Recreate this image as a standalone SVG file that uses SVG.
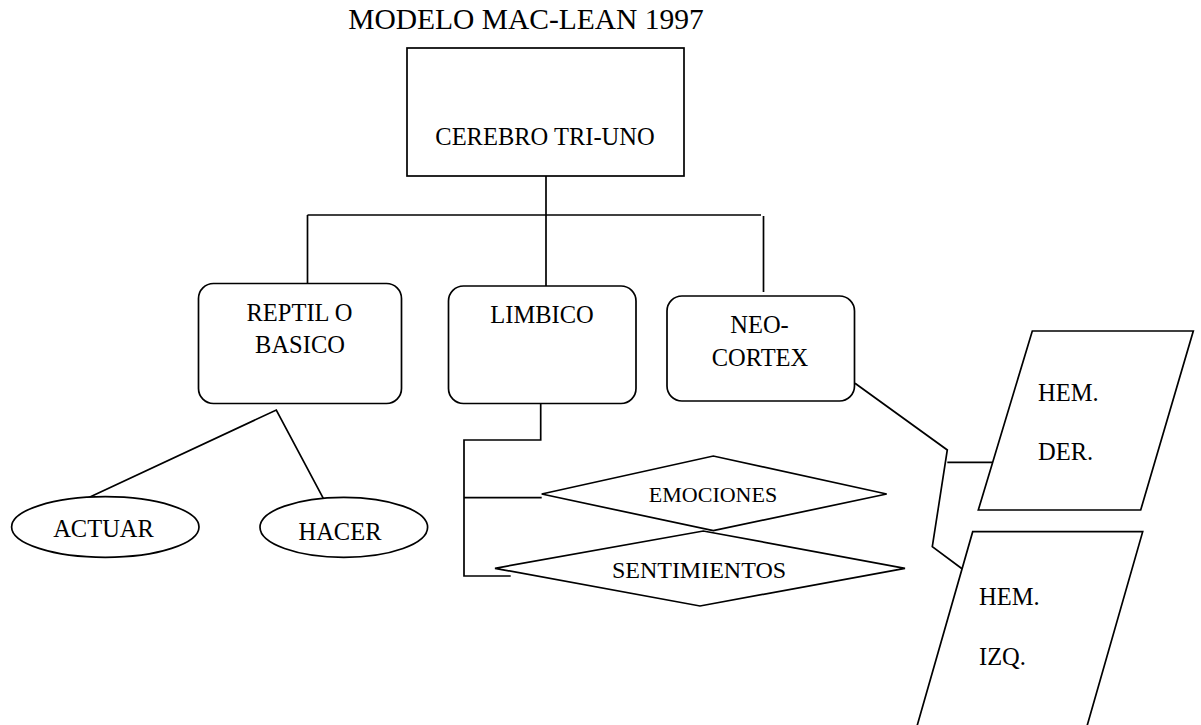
<svg xmlns="http://www.w3.org/2000/svg" width="1201" height="725" viewBox="0 0 1201 725">
<style>
.s{fill:#fff;stroke:#000;stroke-width:1.7}
.c{fill:none;stroke:#000;stroke-width:1.7}
text{font-family:"Liberation Serif","Times New Roman",serif;font-size:24.5px;fill:#000}
.m{text-anchor:middle}
</style>
<rect width="1201" height="725" fill="#fff"/>
<text id="title" class="m" x="526" y="29" style="font-size:29.5px">MODELO MAC-LEAN 1997</text>
<g id="connectors">
<path class="c" d="M546 176V292"/>
<path class="c" d="M307.5 215H761"/>
<path class="c" d="M307.5 215V284"/>
<path class="c" d="M763.5 216V292"/>
<path class="c" d="M88.3 497.7L276.3 410L323.3 498.3"/>
<path class="c" d="M540.7 403.3V440H464V576H510.7"/>
<path class="c" d="M464 497.7H541.7"/>
<path class="c" d="M855 383.3L947.3 450L932.3 546.7L962.7 569.3"/>
<path class="c" d="M947.3 462.3H992.7"/>
</g>
<g id="cerebro">
<rect class="s" x="407" y="48" width="277" height="128"/>
<text class="m" x="545" y="145">CEREBRO TRI-UNO</text>
</g>
<g id="reptil">
<rect class="s" x="198.5" y="283.5" width="203" height="120" rx="15"/>
<text class="m" x="299.5" y="321">REPTIL O</text>
<text class="m" x="300" y="353">BASICO</text>
</g>
<g id="limbico">
<rect class="s" x="448.5" y="286" width="187.5" height="117.5" rx="15"/>
<text class="m" x="542" y="323">LIMBICO</text>
</g>
<g id="neocortex">
<rect class="s" x="667" y="296" width="187.5" height="105" rx="15"/>
<text class="m" x="759.5" y="333">NEO-</text>
<text class="m" x="760" y="366">CORTEX</text>
</g>
<g id="actuar">
<ellipse class="s" cx="105.3" cy="527" rx="93.7" ry="30.3"/>
<text class="m" x="103.5" y="536.7">ACTUAR</text>
</g>
<g id="hacer">
<ellipse class="s" cx="343.8" cy="527.3" rx="83.8" ry="30"/>
<text class="m" x="340" y="540">HACER</text>
</g>
<g id="sentimientos">
<polygon class="s" points="495,568.3 703.3,531 905,568.3 700,606"/>
<text class="m" x="699" y="578" style="font-size:24px">SENTIMIENTOS</text>
</g>
<g id="emociones">
<polygon class="c" points="541.7,494 713.3,456 886.7,494 713.3,530.7"/>
<text class="m" x="713" y="501.5" style="font-size:22px">EMOCIONES</text>
</g>
<g id="hemder">
<polygon class="s" points="1032.3,331 1193.3,331 1140.7,510 978.3,510"/>
<text x="1038" y="400.7">HEM.</text>
<text x="1038" y="460">DER.</text>
</g>
<g id="hemizq">
<polygon class="s" points="972.7,531.7 1142.7,531.7 1081.6,745 911.6,745"/>
<text x="979" y="605">HEM.</text>
<text x="979" y="665">IZQ.</text>
</g>
</svg>
